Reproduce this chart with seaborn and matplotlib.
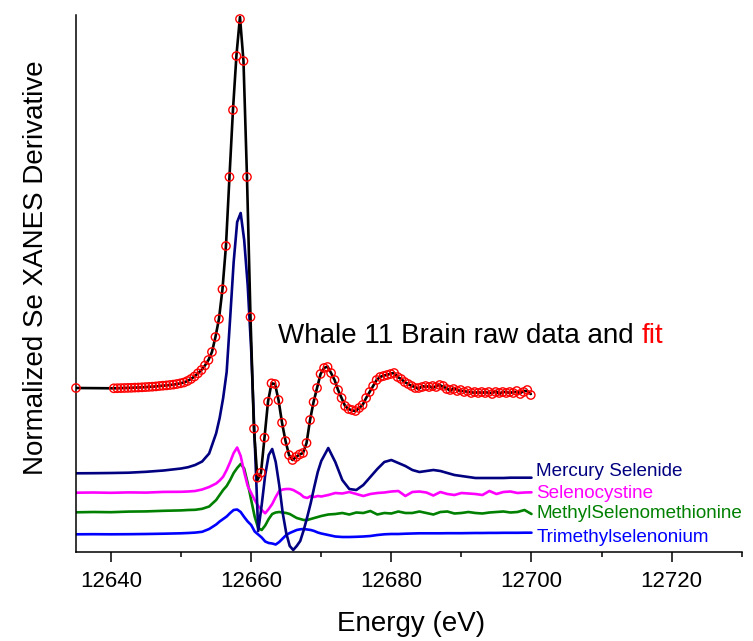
import numpy as np
import pandas as pd
import matplotlib
matplotlib.use("Agg")
import matplotlib.pyplot as plt
import seaborn as sns
from matplotlib.ticker import MultipleLocator

sns.set_style("ticks")
plt.rcParams['font.family'] = ['Liberation Sans', 'DejaVu Sans']
plt.rcParams['text.color'] = 'black'
plt.rcParams['axes.labelcolor'] = 'black'
plt.rcParams['xtick.color'] = 'black'
plt.rcParams['ytick.color'] = 'black'

# ---------------- data ----------------
# sample energies (eV): one point at 12635, then a 0.5 eV grid
data_energy = np.concatenate([[12635.0], np.round(np.arange(12640.4, 12700.0, 0.5), 1)])

# Whale 11 brain: fit (circles) and raw data (line), relative to their baseline
fit_values = [0.000,
    -0.003, -0.002, -0.001, 0.000, 0.001, 0.002, 0.004, 0.005, 0.007, 0.009,
    0.011, 0.013, 0.016, 0.020, 0.023, 0.026, 0.030, 0.034, 0.040, 0.047,
    0.055, 0.070, 0.090, 0.115, 0.147, 0.180, 0.225, 0.280, 0.360, 0.510,
    0.690, 0.987, 1.420, 2.110, 2.780, 3.320, 3.690, 3.270, 2.110, 0.710,
    -0.407, -0.897, -0.847, -0.497, -0.137, 0.047, 0.040, -0.120, -0.347, -0.530,
    -0.670, -0.720, -0.690, -0.665, -0.650, -0.550, -0.320, -0.140, 0.000, 0.140,
    0.200, 0.210, 0.150, 0.080, -0.020, -0.100, -0.180, -0.210, -0.220, -0.230,
    -0.200, -0.170, -0.100, -0.040, 0.020, 0.080, 0.110, 0.120, 0.130, 0.140,
    0.150, 0.110, 0.090, 0.060, 0.040, 0.020, 0.000, 0.000, 0.010, 0.020,
    0.010, 0.020, 0.010, 0.030, 0.020, -0.010, -0.020, -0.010, -0.030, -0.020,
    -0.040, -0.030, -0.050, -0.040, -0.050, -0.040, -0.050, -0.040, -0.060, -0.040,
    -0.050, -0.040, -0.050, -0.040, -0.050, -0.030, -0.060, -0.040, -0.020, -0.070]

raw_values = [0.000,
    -0.003, -0.002, -0.001, 0.000, 0.001, 0.002, 0.004, 0.005, 0.007, 0.009,
    0.011, 0.013, 0.016, 0.020, 0.023, 0.026, 0.030, 0.034, 0.040, 0.047,
    0.055, 0.070, 0.090, 0.115, 0.147, 0.180, 0.225, 0.280, 0.360, 0.510,
    0.690, 0.987, 1.420, 2.110, 2.780, 3.330, 3.710, 3.270, 2.110, 0.710,
    -0.420, -0.920, -0.847, -0.497, -0.137, 0.047, 0.040, -0.120, -0.347, -0.530,
    -0.670, -0.720, -0.690, -0.665, -0.650, -0.550, -0.320, -0.140, 0.000, 0.140,
    0.200, 0.215, 0.150, 0.080, -0.020, -0.100, -0.180, -0.210, -0.225, -0.230,
    -0.200, -0.170, -0.100, -0.040, 0.020, 0.080, 0.110, 0.125, 0.130, 0.145,
    0.150, 0.110, 0.090, 0.060, 0.040, 0.020, 0.010, -0.010, 0.020, 0.010,
    0.020, 0.000, 0.020, 0.030, 0.010, 0.000, -0.030, 0.000, -0.020, -0.030,
    -0.030, -0.040, -0.040, -0.050, -0.040, -0.050, -0.040, -0.050, -0.050, -0.030,
    -0.060, -0.040, -0.040, -0.050, -0.040, -0.040, -0.050, -0.030, -0.030, -0.060]

# reference compound spectra
ref_energy = [12635, 12637.5, 12640, 12642.5, 12645, 12647.5,
    12650, 12651, 12652, 12653, 12654,
    12655, 12655.5, 12656, 12656.5, 12657, 12657.5, 12658, 12658.5, 12659, 12659.5,
    12660, 12660.5, 12661, 12661.5, 12662, 12662.5, 12663, 12663.5, 12664, 12664.5,
    12665, 12665.5, 12666, 12666.5, 12667, 12667.5, 12668, 12668.5, 12669, 12669.5,
    12670, 12671, 12672, 12673, 12674, 12675, 12676, 12677, 12678, 12679,
    12680, 12681, 12682, 12683, 12684, 12685, 12686, 12687, 12688, 12689,
    12690, 12691, 12692, 12693, 12694, 12695, 12696, 12697, 12698, 12699, 12700]

mercury_selenide = [0.000, 0.001, 0.003, 0.006, 0.015, 0.028,
    0.048, 0.061, 0.083, 0.118, 0.198,
    0.400, 0.553, 0.753, 1.013, 1.553, 2.113, 2.513, 2.603, 2.333, 1.883,
    1.233, 0.333, -0.577, -0.317, -0.017, 0.183, 0.243, 0.113, -0.117, -0.397,
    -0.597, -0.727, -0.767, -0.727, -0.677, -0.567, -0.437, -0.297, -0.137, 0.013,
    0.123, 0.253, 0.113, -0.067, -0.157, -0.167, -0.117, -0.037, 0.043, 0.113,
    0.133, 0.103, 0.073, 0.033, 0.013, 0.023, 0.033, 0.023, 0.003, -0.017,
    -0.027, -0.037, -0.047, -0.047, -0.047, -0.047, -0.047, -0.044, -0.044, -0.044, -0.044]

selenocystine = [0.000, 0.002, -0.001, 0.003, 0.001, 0.008,
    0.009, 0.012, 0.017, 0.032, 0.057,
    0.092, 0.122, 0.160, 0.227, 0.307, 0.397, 0.452, 0.367, 0.207, 0.067,
    -0.003, -0.073, -0.133, -0.173, -0.206, -0.163, -0.113, -0.043, 0.017, 0.032,
    0.037, 0.037, 0.027, 0.007, -0.013, -0.043, -0.053, -0.033, -0.043, -0.033,
    -0.038, -0.023, -0.003, -0.008, 0.007, -0.013, -0.033, -0.013, -0.003, 0.002,
    0.012, 0.017, -0.033, 0.007, 0.012, 0.002, -0.028, 0.007, -0.013, -0.023,
    -0.003, -0.008, -0.013, -0.023, 0.017, -0.013, 0.007, 0.012, -0.003, 0.002, 0.004]

methylselenomethionine = [0.000, 0.003, 0.001, 0.007, 0.009, 0.015,
    0.019, 0.023, 0.025, 0.035, 0.058,
    0.123, 0.173, 0.223, 0.263, 0.323, 0.393, 0.443, 0.483, 0.438, 0.293,
    0.123, -0.044, -0.157, -0.177, -0.132, -0.067, -0.017, -0.002, 0.003, -0.002,
    -0.007, -0.017, -0.037, -0.057, -0.067, -0.077, -0.077, -0.067, -0.057, -0.047,
    -0.037, -0.022, -0.017, -0.007, -0.022, -0.002, -0.007, 0.013, -0.022, -0.007,
    -0.012, 0.008, -0.007, -0.007, 0.008, -0.007, -0.022, 0.003, 0.008, -0.012,
    -0.007, 0.003, -0.007, -0.012, -0.002, 0.003, 0.008, -0.002, 0.003, 0.023, -0.017]

trimethylselenonium = [0.000, 0.001, 0.000, 0.001, 0.003, 0.006,
    0.010, 0.013, 0.017, 0.025, 0.053,
    0.098, 0.128, 0.153, 0.178, 0.213, 0.243, 0.248, 0.223, 0.173, 0.128,
    0.093, 0.028, -0.002, -0.032, -0.072, -0.087, -0.092, -0.102, -0.077, -0.042,
    -0.007, 0.013, 0.028, 0.043, 0.050, 0.053, 0.048, 0.043, 0.033, 0.018,
    0.008, -0.007, -0.022, -0.027, -0.027, -0.025, -0.022, -0.017, -0.007, 0.000,
    0.003, 0.003, 0.006, 0.008, 0.010, 0.010, 0.010, 0.010, 0.011, 0.011,
    0.011, 0.012, 0.013, 0.013, 0.014, 0.014, 0.015, 0.015, 0.015, 0.016, 0.016]

ref_names = ["Mercury Selenide", "Selenocystine", "MethylSelenomethionine", "Trimethylselenonium"]
ref_series = [mercury_selenide, selenocystine, methylselenomethionine, trimethylselenonium]
ref_colors = ["#000080", "#FF00FF", "#008000", "#0000FF"]
ref_offsets = [0.787, 0.593, 0.397, 0.177]
label_y = [0.76, 0.537, 0.337, 0.103]
sample_offset = 1.64

# ---------------- figure ----------------
fig = plt.figure(figsize=(7.53, 6.41), dpi=100)
W, H = 753, 641
ax = fig.add_axes([76 / W, 1 - 552 / H, (741.7 - 76) / W, (552 - 15) / H])

for name, vals, col, off in list(zip(ref_names, ref_series, ref_colors, ref_offsets))[::-1]:
    df = pd.DataFrame({"energy": ref_energy, "value": np.array(vals) + off})
    sns.lineplot(data=df, x="energy", y="value", color=col, linewidth=1.9,
                 estimator=None, sort=False, ax=ax)

raw_df = pd.DataFrame({"energy": data_energy, "value": np.array(raw_values) + sample_offset})
fit_df = pd.DataFrame({"energy": data_energy, "value": np.array(fit_values) + sample_offset})
sns.lineplot(data=raw_df, x="energy", y="value", color="black", linewidth=1.9,
             estimator=None, sort=False, ax=ax, zorder=3)
sns.scatterplot(data=fit_df, x="energy", y="value", marker="o", s=36,
                facecolor="none", edgecolor="#FF0000", linewidth=1.0, ax=ax, zorder=4,
                clip_on=False)

for name, col, yy in zip(ref_names, ref_colors, label_y):
    ax.text(12700.7, yy, name, color=col, fontsize=13.6, ha="left", va="baseline", clip_on=False)

t1 = ax.text(12663.8, 2.087, "Whale 11 Brain raw data and", fontsize=20, color="black",
             ha="left", va="baseline")
ax.annotate("fit", xy=(1, 0), xycoords=t1, xytext=(5.6, 0), textcoords="offset points",
            fontsize=20, color="#FF0000", ha="left", va="bottom")

ax.set_xlim(12635, 12730)
ax.set_ylim(0, 5.37)
ax.set_yticks([])
ax.set_xticks([12640, 12660, 12680, 12700, 12720])
ax.xaxis.set_minor_locator(MultipleLocator(10))
ax.tick_params(axis="x", which="major", direction="out", length=7.2, width=1.1,
               labelsize=16, pad=6.5, colors="black")
ax.tick_params(axis="x", which="minor", direction="out", length=3.5, width=1.1, colors="black")
for s in ["top", "right"]:
    ax.spines[s].set_visible(False)
for s in ["left", "bottom"]:
    ax.spines[s].set_linewidth(1.1)
    ax.spines[s].set_color("black")
ax.set_xlabel("")
ax.set_ylabel("")

fig.text(410.8 / W, 1 - 631 / H, "Energy (eV)", fontsize=20, color="black",
         ha="center", va="baseline")
fig.text(43 / W, 1 - 267.5 / H, "Normalized Se XANES Derivative", fontsize=20, color="black",
         rotation=90, rotation_mode="anchor", ha="center", va="baseline")

fig.savefig("out.png", dpi=100)
